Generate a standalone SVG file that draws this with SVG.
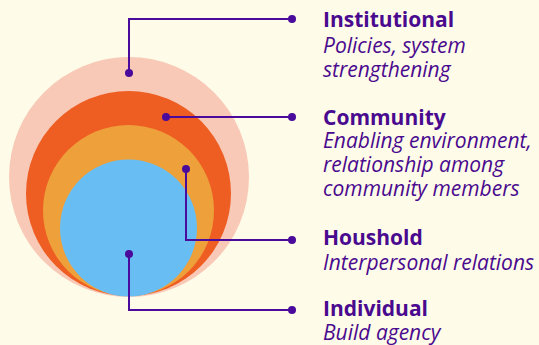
<svg xmlns="http://www.w3.org/2000/svg" width="539" height="345" viewBox="0 0 539 345">
<style>
.ln{fill:none;stroke:#4a0a9c;stroke-width:2}
.dot{fill:#4a0a9c}
.t{font-family:"Open Sans",sans-serif;font-weight:700;font-size:21px;fill:#4a0a8f}
.s{font-family:"Open Sans",sans-serif;font-style:italic;font-size:21px;fill:#4a0a8f}
</style>
<rect width="539" height="345" fill="#fefce8"/>
<g id="circles">
<circle id="institutional-ring" cx="129" cy="177" r="120" fill="#f9c9b7"/>
<circle id="community-ring" cx="128.5" cy="193.5" r="102.5" fill="#ee5d22"/>
<circle id="household-ring" cx="128.5" cy="210.5" r="85.5" fill="#eea03b"/>
<circle id="individual-ring" cx="128.5" cy="228" r="68.5" fill="#68bef3"/>
</g>
<g id="connectors">
<polyline class="ln" points="129,73 129,19 292,19"/>
<circle class="dot" cx="129" cy="73" r="4"/>
<circle class="dot" cx="292" cy="19" r="4"/>
<polyline class="ln" points="166,117 292,117"/>
<circle class="dot" cx="166" cy="117" r="4"/>
<circle class="dot" cx="292" cy="117" r="4"/>
<polyline class="ln" points="186,169 186,240 292,240"/>
<circle class="dot" cx="186" cy="169" r="4"/>
<circle class="dot" cx="292" cy="240" r="4"/>
<polyline class="ln" points="129,254 129,310 292,310"/>
<circle class="dot" cx="129" cy="254" r="4"/>
<circle class="dot" cx="292" cy="310" r="4"/>
</g>
<g id="institutional">
<text class="t" x="323" y="27">Institutional</text>
<text class="s" x="323" y="53">Policies, system</text>
<text class="s" x="323" y="77">strengthening</text>
</g>
<g id="community">
<text class="t" x="323" y="125">Community</text>
<text class="s" x="323" y="148">Enabling environment,</text>
<text class="s" x="323" y="172">relationship among</text>
<text class="s" x="323" y="196">community members</text>
</g>
<g id="household">
<text class="t" x="323" y="245">Houshold</text>
<text class="s" x="323" y="270">Interpersonal relations</text>
</g>
<g id="individual">
<text class="t" x="323" y="316">Individual</text>
<text class="s" x="323" y="340">Build agency</text>
</g>
</svg>
